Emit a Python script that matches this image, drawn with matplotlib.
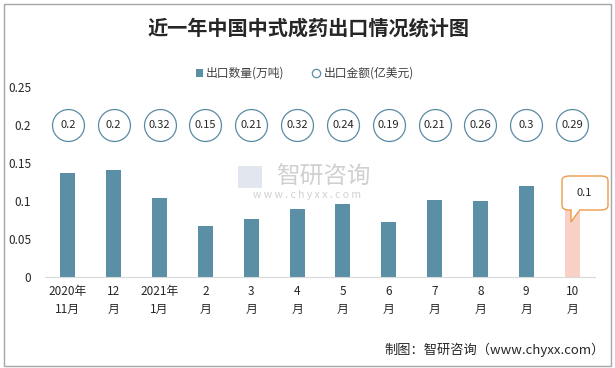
import matplotlib
matplotlib.use("Agg")
import matplotlib.pyplot as plt
from matplotlib.patches import FancyBboxPatch, Rectangle, Polygon
import numpy as np

plt.rcParams['font.family'] = ['Noto Sans CJK SC', 'DejaVu Sans']

categories = ["2020年\n11月", "12\n月", "2021年\n1月", "2\n月", "3\n月", "4\n月",
              "5\n月", "6\n月", "7\n月", "8\n月", "9\n月", "10\n月"]
quantity = [0.137, 0.141, 0.104, 0.067, 0.076, 0.089, 0.096, 0.072, 0.101, 0.100, 0.120, 0.090]
amount = [0.2, 0.2, 0.32, 0.15, 0.21, 0.32, 0.24, 0.19, 0.21, 0.26, 0.3, 0.29]
amount_level = 0.2
last_label = "0.1"
yticks = [0, 0.05, 0.1, 0.15, 0.2, 0.25]
yticklabels = ["0", "0.05", "0.1", "0.15", "0.2", "0.25"]

W, H = 615, 368
fig = plt.figure(figsize=(W / 100, H / 100), dpi=100)

# outer border
fig.patches.append(Rectangle((4 / W, 2 / H), 607 / W, 362 / H, transform=fig.transFigure,
                             fill=False, edgecolor="#a6a6a6", linewidth=1.0))

ax = fig.add_axes([45 / W, 1 - 277 / H, 550 / W, 190 / H])
x = np.arange(len(categories))
colors = ["#5b8fa6"] * (len(categories) - 1) + ["#f8d0c6"]
ax.bar(x, quantity, width=0.33, color=colors, zorder=2)

ax.plot(x, [amount_level] * len(x), linestyle="none", marker="o", ms=23,
        markerfacecolor="white", markeredgecolor="#5a8aa3", markeredgewidth=0.9, zorder=3)
for xi, v in zip(x, amount):
    ax.text(xi, amount_level, f"{v:g}", ha="center", va="center", fontsize=8,
            color="#262626", zorder=4)

ax.set_xlim(-0.5, len(categories) - 0.5)
ax.set_ylim(0, 0.25)
ax.set_yticks(yticks)
ax.set_yticklabels(yticklabels)
ax.set_xticks(x)
ax.set_xticklabels(categories, linespacing=1.5)
ax.tick_params(axis="both", length=0, labelsize=8.5, colors="#262626")
ax.tick_params(axis="y", pad=10)
ax.tick_params(axis="x", pad=6)
for s in ["top", "right", "left"]:
    ax.spines[s].set_visible(False)
ax.spines["bottom"].set_color("#d9d9d9")

# callout for last bar
bx0, bx1, by0, by1 = 562, 608, 176, 210
fig.patches.append(FancyBboxPatch((bx0 / W, 1 - by1 / H), (bx1 - bx0) / W, (by1 - by0) / H,
                                  boxstyle="round,pad=0,rounding_size=0.012",
                                  transform=fig.transFigure, facecolor="white",
                                  edgecolor="#ed9a4a", linewidth=1.0, zorder=5))
fig.patches.append(Polygon([(571 / W, 1 - 209.5 / H), (571 / W, 1 - 222 / H), (580 / W, 1 - 209.5 / H)],
                           closed=False, transform=fig.transFigure, facecolor="white",
                           edgecolor="#ed9a4a", linewidth=1.0, zorder=6))
fig.patches.append(Rectangle((571.6 / W, 1 - 210.6 / H), 7.5 / W, 2 / H, transform=fig.transFigure,
                             facecolor="white", edgecolor="none", zorder=7))
fig.text(584 / W, 1 - 193 / H, last_label, ha="center", va="center", fontsize=8,
         color="#262626", zorder=8)

# watermark
fig.text(323 / W, 1 - 177 / H, "智研咨询", ha="center", va="center", fontsize=17,
         color="#d0d0d0", fontweight="light")
fig.text(307 / W, 1 - 195 / H, "w w w . c h y x x . c o m", ha="center", va="center",
         fontsize=7.5, color="#d0d0d0")
fig.patches.append(Rectangle((238 / W, 1 - 188 / H), 24 / W, 22 / H, transform=fig.transFigure,
                             facecolor="#dbe1ec", edgecolor="none", alpha=0.8))

# title and legend
fig.text(308 / W, 1 - 28 / H, "近一年中国中式成药出口情况统计图", ha="center", va="center",
         fontsize=14.5, fontweight="bold", color="#262626")
fig.patches.append(Rectangle((196 / W, 1 - 77 / H), 7 / W, 8 / H, transform=fig.transFigure,
                             facecolor="#5b8fa6", edgecolor="none"))
fig.text(206 / W, 1 - 73 / H, "出口数量(万吨)", ha="left", va="center", fontsize=8.5, color="#404040")
fig.add_artist(plt.Line2D([316 / W], [1 - 73 / H], marker="o", ms=6, markerfacecolor="white",
                          markeredgecolor="#5b8fa6", markeredgewidth=0.9, transform=fig.transFigure))
fig.text(324 / W, 1 - 73 / H, "出口金额(亿美元)", ha="left", va="center", fontsize=8.5, color="#404040")

fig.text(605 / W, 1 - 350 / H, "制图：智研咨询（www.chyxx.com）", ha="right", va="center",
         fontsize=9.5, color="#262626")

fig.savefig("out.png", dpi=100)
